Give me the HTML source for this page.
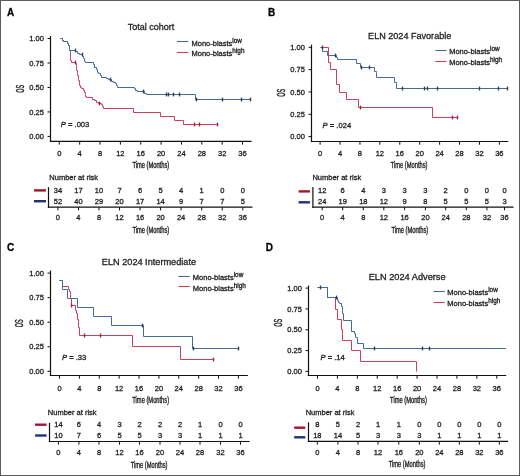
<!DOCTYPE html>
<html><head><meta charset="utf-8"><title>KM</title>
<style>
html,body{margin:0;padding:0;background:#fff;}
body{width:520px;height:476px;overflow:hidden;}
svg{display:block;font-family:"Liberation Sans", sans-serif;will-change:transform;-webkit-font-smoothing:antialiased;}
text{stroke:#1e1e1e;stroke-width:0.3px;paint-order:stroke;}
</style></head>
<body>
<svg width="520" height="476" viewBox="0 0 520 476">
<rect x="0" y="0" width="520" height="476" fill="#fff"/>
<text x="6.9" y="15.9" font-size="10" text-anchor="start" font-weight="bold" font-style="normal" fill="#000">A</text>
<text x="127.7" y="30.4" font-size="9.2" text-anchor="start" font-weight="normal" font-style="normal" fill="#222" textLength="46.5" lengthAdjust="spacingAndGlyphs">Total cohort</text>
<line x1="176.9" y1="41.5" x2="188.2" y2="41.5" stroke="#456a98" stroke-width="1.1" stroke-linecap="butt"/>
<text x="191.5" y="45.6" font-size="7.5" fill="#222">Mono-blasts<tspan font-size="6.4" dy="-3">low</tspan></text>
<line x1="176.9" y1="52.5" x2="188.2" y2="52.5" stroke="#cc3d5e" stroke-width="1.1" stroke-linecap="butt"/>
<text x="191.5" y="56.4" font-size="7.5" fill="#222">Mono-blasts<tspan font-size="6.4" dy="-3">high</tspan></text>
<line x1="50.5" y1="35.9" x2="50.5" y2="142" stroke="#111" stroke-width="1.2" stroke-linecap="butt"/>
<line x1="47.5" y1="38.5" x2="50.5" y2="38.5" stroke="#111" stroke-width="1" stroke-linecap="butt"/>
<text x="43.9" y="41.2" font-size="7.5" text-anchor="end" font-weight="normal" font-style="normal" fill="#222">1.00</text>
<line x1="47.5" y1="62.98" x2="50.5" y2="62.98" stroke="#111" stroke-width="1" stroke-linecap="butt"/>
<text x="43.9" y="65.67" font-size="7.5" text-anchor="end" font-weight="normal" font-style="normal" fill="#222">0.75</text>
<line x1="47.5" y1="87.45" x2="50.5" y2="87.45" stroke="#111" stroke-width="1" stroke-linecap="butt"/>
<text x="43.9" y="90.15" font-size="7.5" text-anchor="end" font-weight="normal" font-style="normal" fill="#222">0.50</text>
<line x1="47.5" y1="111.93" x2="50.5" y2="111.93" stroke="#111" stroke-width="1" stroke-linecap="butt"/>
<text x="43.9" y="114.63" font-size="7.5" text-anchor="end" font-weight="normal" font-style="normal" fill="#222">0.25</text>
<line x1="47.5" y1="136.4" x2="50.5" y2="136.4" stroke="#111" stroke-width="1" stroke-linecap="butt"/>
<text x="43.9" y="139.1" font-size="7.5" text-anchor="end" font-weight="normal" font-style="normal" fill="#222">0.00</text>
<line x1="49.9" y1="141.4" x2="251.5" y2="141.4" stroke="#111" stroke-width="1.2" stroke-linecap="butt"/>
<line x1="59.3" y1="141.4" x2="59.3" y2="144.6" stroke="#111" stroke-width="1" stroke-linecap="butt"/>
<text x="59.3" y="155.8" font-size="7.5" text-anchor="middle" font-weight="normal" font-style="normal" fill="#222">0</text>
<line x1="79.66" y1="141.4" x2="79.66" y2="144.6" stroke="#111" stroke-width="1" stroke-linecap="butt"/>
<text x="79.66" y="155.8" font-size="7.5" text-anchor="middle" font-weight="normal" font-style="normal" fill="#222">4</text>
<line x1="100.02" y1="141.4" x2="100.02" y2="144.6" stroke="#111" stroke-width="1" stroke-linecap="butt"/>
<text x="100.02" y="155.8" font-size="7.5" text-anchor="middle" font-weight="normal" font-style="normal" fill="#222">8</text>
<line x1="120.38" y1="141.4" x2="120.38" y2="144.6" stroke="#111" stroke-width="1" stroke-linecap="butt"/>
<text x="120.38" y="155.8" font-size="7.5" text-anchor="middle" font-weight="normal" font-style="normal" fill="#222">12</text>
<line x1="140.74" y1="141.4" x2="140.74" y2="144.6" stroke="#111" stroke-width="1" stroke-linecap="butt"/>
<text x="140.74" y="155.8" font-size="7.5" text-anchor="middle" font-weight="normal" font-style="normal" fill="#222">16</text>
<line x1="161.1" y1="141.4" x2="161.1" y2="144.6" stroke="#111" stroke-width="1" stroke-linecap="butt"/>
<text x="161.1" y="155.8" font-size="7.5" text-anchor="middle" font-weight="normal" font-style="normal" fill="#222">20</text>
<line x1="181.46" y1="141.4" x2="181.46" y2="144.6" stroke="#111" stroke-width="1" stroke-linecap="butt"/>
<text x="181.46" y="155.8" font-size="7.5" text-anchor="middle" font-weight="normal" font-style="normal" fill="#222">24</text>
<line x1="201.82" y1="141.4" x2="201.82" y2="144.6" stroke="#111" stroke-width="1" stroke-linecap="butt"/>
<text x="201.82" y="155.8" font-size="7.5" text-anchor="middle" font-weight="normal" font-style="normal" fill="#222">28</text>
<line x1="222.18" y1="141.4" x2="222.18" y2="144.6" stroke="#111" stroke-width="1" stroke-linecap="butt"/>
<text x="222.18" y="155.8" font-size="7.5" text-anchor="middle" font-weight="normal" font-style="normal" fill="#222">32</text>
<line x1="242.54" y1="141.4" x2="242.54" y2="144.6" stroke="#111" stroke-width="1" stroke-linecap="butt"/>
<text x="242.54" y="155.8" font-size="7.5" text-anchor="middle" font-weight="normal" font-style="normal" fill="#222">36</text>
<text x="132.4" y="168.1" font-size="8.2" text-anchor="start" font-weight="normal" font-style="normal" fill="#222" textLength="36.8" lengthAdjust="spacingAndGlyphs" style="stroke-width:0.35px">Time (Months)</text>
<text x="0" y="0" font-size="10.6" fill="#222" textLength="7.9" lengthAdjust="spacingAndGlyphs" text-anchor="middle" style="stroke-width:0.45px" transform="translate(23.9 88.7) rotate(-90)">OS</text>
<path d="M60.5 38.5H62.5V40.5H63.5V41.5H67.5V43.5H68.5V45.5H69.5V47.5H69.5V50.5H70.5V57.5H70.5V60.5H71.5V62.5H75.5V63.5H76.5V65.5H76.5V68.5H76.5V70.5H77.5V73.5H77.5V75.5H78.5V78.5H78.5V80.5H79.5V83.5H79.5V85.5H80.5V87.5H81.5V88.5H83.5V90.5H84.5V92.5H85.5V94.5H85.5V96.5H86.5V97.5H92.5V99.5H94.5V100.5H96.5V102.5H98.5V103.5H101.5V104.5H102.5V106.5H103.5V108.5H133.5V112.5H160.5V116.5H174.5V120.5H183.5V124.5H218" fill="none" stroke="#cc3d5e" stroke-width="1" stroke-linejoin="miter"/>
<path d="M60.5 38.5H62.5V40.5H63.5V41.5H67.5V43.5H68.5V45.5H69.5V47.5H69.5V50.5H75.5V51.5H77.5V53.5H79.5V54.5H82.5V56.5H83.5V58.5H84.5V61.5H85.5V62.5H93.5V64.5H94.5V67.5H96.5V69.5H97.5V72.5H98.5V73.5H100.5V75.5H101.5V77.5H106.5V78.5H108.5V79.5H111.5V81.5H113.5V82.5H115.5V83.5H116.5V85.5H117.5V87.5H134.5V88.5H135.5V90.5H137.5V91.5H144.5V93.5H146.5V94.5H195.5V99.5H251" fill="none" stroke="#456a98" stroke-width="1" stroke-linejoin="miter"/>
<line x1="75.5" y1="60.6" x2="75.5" y2="64.4" stroke="#8e2540" stroke-width="1.4" stroke-linecap="butt"/>
<line x1="99.5" y1="101.6" x2="99.5" y2="105.4" stroke="#8e2540" stroke-width="1.4" stroke-linecap="butt"/>
<line x1="194.5" y1="122.6" x2="194.5" y2="126.4" stroke="#8e2540" stroke-width="1.4" stroke-linecap="butt"/>
<line x1="199.5" y1="122.6" x2="199.5" y2="126.4" stroke="#8e2540" stroke-width="1.4" stroke-linecap="butt"/>
<line x1="217.5" y1="122.6" x2="217.5" y2="126.4" stroke="#8e2540" stroke-width="1.4" stroke-linecap="butt"/>
<line x1="75.5" y1="48.6" x2="75.5" y2="52.4" stroke="#2a3f5c" stroke-width="1.4" stroke-linecap="butt"/>
<line x1="82.5" y1="52.6" x2="82.5" y2="56.4" stroke="#2a3f5c" stroke-width="1.4" stroke-linecap="butt"/>
<line x1="110.5" y1="77.6" x2="110.5" y2="81.4" stroke="#2a3f5c" stroke-width="1.4" stroke-linecap="butt"/>
<line x1="143.5" y1="89.6" x2="143.5" y2="93.4" stroke="#2a3f5c" stroke-width="1.4" stroke-linecap="butt"/>
<line x1="166.5" y1="92.6" x2="166.5" y2="96.4" stroke="#2a3f5c" stroke-width="1.4" stroke-linecap="butt"/>
<line x1="168.5" y1="92.6" x2="168.5" y2="96.4" stroke="#2a3f5c" stroke-width="1.4" stroke-linecap="butt"/>
<line x1="173.5" y1="92.6" x2="173.5" y2="96.4" stroke="#2a3f5c" stroke-width="1.4" stroke-linecap="butt"/>
<line x1="179.5" y1="92.6" x2="179.5" y2="96.4" stroke="#2a3f5c" stroke-width="1.4" stroke-linecap="butt"/>
<line x1="196.5" y1="97.6" x2="196.5" y2="101.4" stroke="#2a3f5c" stroke-width="1.4" stroke-linecap="butt"/>
<line x1="222.5" y1="97.6" x2="222.5" y2="101.4" stroke="#2a3f5c" stroke-width="1.4" stroke-linecap="butt"/>
<line x1="241.5" y1="97.6" x2="241.5" y2="101.4" stroke="#2a3f5c" stroke-width="1.4" stroke-linecap="butt"/>
<line x1="250.5" y1="97.6" x2="250.5" y2="101.4" stroke="#2a3f5c" stroke-width="1.4" stroke-linecap="butt"/>
<text x="60.8" y="126.6" font-size="7.6" fill="#222"><tspan font-style="italic">P</tspan> = .003</text>
<text x="49.3" y="180.3" font-size="7.5" text-anchor="start" font-weight="normal" font-style="normal" fill="#222">Number at risk</text>
<line x1="34" y1="190.4" x2="46" y2="190.4" stroke="#a3162f" stroke-width="2.4" stroke-linecap="butt"/>
<line x1="34" y1="201.2" x2="46" y2="201.2" stroke="#1d3470" stroke-width="2.4" stroke-linecap="butt"/>
<line x1="48.5" y1="187.2" x2="48.5" y2="207.8" stroke="#111" stroke-width="1.2" stroke-linecap="butt"/>
<line x1="47.9" y1="207.2" x2="252.5" y2="207.2" stroke="#111" stroke-width="1.2" stroke-linecap="butt"/>
<line x1="57.9" y1="207.2" x2="57.9" y2="210.4" stroke="#111" stroke-width="1" stroke-linecap="butt"/>
<text x="57.9" y="192.8" font-size="7.5" text-anchor="middle" font-weight="normal" font-style="normal" fill="#222">34</text>
<text x="57.9" y="203.6" font-size="7.5" text-anchor="middle" font-weight="normal" font-style="normal" fill="#222">52</text>
<text x="57.9" y="220.2" font-size="7.5" text-anchor="middle" font-weight="normal" font-style="normal" fill="#222">0</text>
<line x1="78.44" y1="207.2" x2="78.44" y2="210.4" stroke="#111" stroke-width="1" stroke-linecap="butt"/>
<text x="78.44" y="192.8" font-size="7.5" text-anchor="middle" font-weight="normal" font-style="normal" fill="#222">17</text>
<text x="78.44" y="203.6" font-size="7.5" text-anchor="middle" font-weight="normal" font-style="normal" fill="#222">40</text>
<text x="78.44" y="220.2" font-size="7.5" text-anchor="middle" font-weight="normal" font-style="normal" fill="#222">4</text>
<line x1="98.98" y1="207.2" x2="98.98" y2="210.4" stroke="#111" stroke-width="1" stroke-linecap="butt"/>
<text x="98.98" y="192.8" font-size="7.5" text-anchor="middle" font-weight="normal" font-style="normal" fill="#222">10</text>
<text x="98.98" y="203.6" font-size="7.5" text-anchor="middle" font-weight="normal" font-style="normal" fill="#222">29</text>
<text x="98.98" y="220.2" font-size="7.5" text-anchor="middle" font-weight="normal" font-style="normal" fill="#222">8</text>
<line x1="119.52" y1="207.2" x2="119.52" y2="210.4" stroke="#111" stroke-width="1" stroke-linecap="butt"/>
<text x="119.52" y="192.8" font-size="7.5" text-anchor="middle" font-weight="normal" font-style="normal" fill="#222">7</text>
<text x="119.52" y="203.6" font-size="7.5" text-anchor="middle" font-weight="normal" font-style="normal" fill="#222">20</text>
<text x="119.52" y="220.2" font-size="7.5" text-anchor="middle" font-weight="normal" font-style="normal" fill="#222">12</text>
<line x1="140.06" y1="207.2" x2="140.06" y2="210.4" stroke="#111" stroke-width="1" stroke-linecap="butt"/>
<text x="140.06" y="192.8" font-size="7.5" text-anchor="middle" font-weight="normal" font-style="normal" fill="#222">6</text>
<text x="140.06" y="203.6" font-size="7.5" text-anchor="middle" font-weight="normal" font-style="normal" fill="#222">17</text>
<text x="140.06" y="220.2" font-size="7.5" text-anchor="middle" font-weight="normal" font-style="normal" fill="#222">16</text>
<line x1="160.6" y1="207.2" x2="160.6" y2="210.4" stroke="#111" stroke-width="1" stroke-linecap="butt"/>
<text x="160.6" y="192.8" font-size="7.5" text-anchor="middle" font-weight="normal" font-style="normal" fill="#222">5</text>
<text x="160.6" y="203.6" font-size="7.5" text-anchor="middle" font-weight="normal" font-style="normal" fill="#222">14</text>
<text x="160.6" y="220.2" font-size="7.5" text-anchor="middle" font-weight="normal" font-style="normal" fill="#222">20</text>
<line x1="181.14" y1="207.2" x2="181.14" y2="210.4" stroke="#111" stroke-width="1" stroke-linecap="butt"/>
<text x="181.14" y="192.8" font-size="7.5" text-anchor="middle" font-weight="normal" font-style="normal" fill="#222">4</text>
<text x="181.14" y="203.6" font-size="7.5" text-anchor="middle" font-weight="normal" font-style="normal" fill="#222">9</text>
<text x="181.14" y="220.2" font-size="7.5" text-anchor="middle" font-weight="normal" font-style="normal" fill="#222">24</text>
<line x1="201.68" y1="207.2" x2="201.68" y2="210.4" stroke="#111" stroke-width="1" stroke-linecap="butt"/>
<text x="201.68" y="192.8" font-size="7.5" text-anchor="middle" font-weight="normal" font-style="normal" fill="#222">1</text>
<text x="201.68" y="203.6" font-size="7.5" text-anchor="middle" font-weight="normal" font-style="normal" fill="#222">7</text>
<text x="201.68" y="220.2" font-size="7.5" text-anchor="middle" font-weight="normal" font-style="normal" fill="#222">28</text>
<line x1="222.22" y1="207.2" x2="222.22" y2="210.4" stroke="#111" stroke-width="1" stroke-linecap="butt"/>
<text x="222.22" y="192.8" font-size="7.5" text-anchor="middle" font-weight="normal" font-style="normal" fill="#222">0</text>
<text x="222.22" y="203.6" font-size="7.5" text-anchor="middle" font-weight="normal" font-style="normal" fill="#222">7</text>
<text x="222.22" y="220.2" font-size="7.5" text-anchor="middle" font-weight="normal" font-style="normal" fill="#222">32</text>
<line x1="242.76" y1="207.2" x2="242.76" y2="210.4" stroke="#111" stroke-width="1" stroke-linecap="butt"/>
<text x="242.76" y="192.8" font-size="7.5" text-anchor="middle" font-weight="normal" font-style="normal" fill="#222">0</text>
<text x="242.76" y="203.6" font-size="7.5" text-anchor="middle" font-weight="normal" font-style="normal" fill="#222">5</text>
<text x="242.76" y="220.2" font-size="7.5" text-anchor="middle" font-weight="normal" font-style="normal" fill="#222">36</text>
<text x="132.4" y="233" font-size="8.2" text-anchor="start" font-weight="normal" font-style="normal" fill="#222" textLength="36.8" lengthAdjust="spacingAndGlyphs" style="stroke-width:0.35px">Time (Months)</text>
<text x="268" y="16.2" font-size="10" text-anchor="start" font-weight="bold" font-style="normal" fill="#000">B</text>
<text x="368.1" y="39.4" font-size="9.2" text-anchor="start" font-weight="normal" font-style="normal" fill="#222" textLength="83.2" lengthAdjust="spacingAndGlyphs">ELN 2024 Favorable</text>
<line x1="435.4" y1="50.5" x2="446.6" y2="50.5" stroke="#456a98" stroke-width="1.1" stroke-linecap="butt"/>
<text x="449.2" y="54.2" font-size="7.5" fill="#222">Mono-blasts<tspan font-size="6.4" dy="-3">low</tspan></text>
<line x1="435.4" y1="61.5" x2="446.6" y2="61.5" stroke="#cc3d5e" stroke-width="1.1" stroke-linecap="butt"/>
<text x="449.2" y="65.2" font-size="7.5" fill="#222">Mono-blasts<tspan font-size="6.4" dy="-3">high</tspan></text>
<line x1="311.5" y1="44.7" x2="311.5" y2="142.1" stroke="#111" stroke-width="1.2" stroke-linecap="butt"/>
<line x1="308.5" y1="47.3" x2="311.5" y2="47.3" stroke="#111" stroke-width="1" stroke-linecap="butt"/>
<text x="304.9" y="50" font-size="7.5" text-anchor="end" font-weight="normal" font-style="normal" fill="#222">1.00</text>
<line x1="308.5" y1="69.62" x2="311.5" y2="69.62" stroke="#111" stroke-width="1" stroke-linecap="butt"/>
<text x="304.9" y="72.33" font-size="7.5" text-anchor="end" font-weight="normal" font-style="normal" fill="#222">0.75</text>
<line x1="308.5" y1="91.95" x2="311.5" y2="91.95" stroke="#111" stroke-width="1" stroke-linecap="butt"/>
<text x="304.9" y="94.65" font-size="7.5" text-anchor="end" font-weight="normal" font-style="normal" fill="#222">0.50</text>
<line x1="308.5" y1="114.27" x2="311.5" y2="114.27" stroke="#111" stroke-width="1" stroke-linecap="butt"/>
<text x="304.9" y="116.97" font-size="7.5" text-anchor="end" font-weight="normal" font-style="normal" fill="#222">0.25</text>
<line x1="308.5" y1="136.6" x2="311.5" y2="136.6" stroke="#111" stroke-width="1" stroke-linecap="butt"/>
<text x="304.9" y="139.3" font-size="7.5" text-anchor="end" font-weight="normal" font-style="normal" fill="#222">0.00</text>
<line x1="310.9" y1="141.5" x2="508.3" y2="141.5" stroke="#111" stroke-width="1.2" stroke-linecap="butt"/>
<line x1="320.1" y1="141.5" x2="320.1" y2="144.7" stroke="#111" stroke-width="1" stroke-linecap="butt"/>
<text x="320.1" y="155.8" font-size="7.5" text-anchor="middle" font-weight="normal" font-style="normal" fill="#222">0</text>
<line x1="340.02" y1="141.5" x2="340.02" y2="144.7" stroke="#111" stroke-width="1" stroke-linecap="butt"/>
<text x="340.02" y="155.8" font-size="7.5" text-anchor="middle" font-weight="normal" font-style="normal" fill="#222">4</text>
<line x1="359.94" y1="141.5" x2="359.94" y2="144.7" stroke="#111" stroke-width="1" stroke-linecap="butt"/>
<text x="359.94" y="155.8" font-size="7.5" text-anchor="middle" font-weight="normal" font-style="normal" fill="#222">8</text>
<line x1="379.86" y1="141.5" x2="379.86" y2="144.7" stroke="#111" stroke-width="1" stroke-linecap="butt"/>
<text x="379.86" y="155.8" font-size="7.5" text-anchor="middle" font-weight="normal" font-style="normal" fill="#222">12</text>
<line x1="399.78" y1="141.5" x2="399.78" y2="144.7" stroke="#111" stroke-width="1" stroke-linecap="butt"/>
<text x="399.78" y="155.8" font-size="7.5" text-anchor="middle" font-weight="normal" font-style="normal" fill="#222">16</text>
<line x1="419.7" y1="141.5" x2="419.7" y2="144.7" stroke="#111" stroke-width="1" stroke-linecap="butt"/>
<text x="419.7" y="155.8" font-size="7.5" text-anchor="middle" font-weight="normal" font-style="normal" fill="#222">20</text>
<line x1="439.62" y1="141.5" x2="439.62" y2="144.7" stroke="#111" stroke-width="1" stroke-linecap="butt"/>
<text x="439.62" y="155.8" font-size="7.5" text-anchor="middle" font-weight="normal" font-style="normal" fill="#222">24</text>
<line x1="459.54" y1="141.5" x2="459.54" y2="144.7" stroke="#111" stroke-width="1" stroke-linecap="butt"/>
<text x="459.54" y="155.8" font-size="7.5" text-anchor="middle" font-weight="normal" font-style="normal" fill="#222">28</text>
<line x1="479.46" y1="141.5" x2="479.46" y2="144.7" stroke="#111" stroke-width="1" stroke-linecap="butt"/>
<text x="479.46" y="155.8" font-size="7.5" text-anchor="middle" font-weight="normal" font-style="normal" fill="#222">32</text>
<line x1="499.38" y1="141.5" x2="499.38" y2="144.7" stroke="#111" stroke-width="1" stroke-linecap="butt"/>
<text x="499.38" y="155.8" font-size="7.5" text-anchor="middle" font-weight="normal" font-style="normal" fill="#222">36</text>
<text x="390.7" y="168.1" font-size="8.2" text-anchor="start" font-weight="normal" font-style="normal" fill="#222" textLength="36.8" lengthAdjust="spacingAndGlyphs" style="stroke-width:0.35px">Time (Months)</text>
<text x="0" y="0" font-size="10.6" fill="#222" textLength="7.9" lengthAdjust="spacingAndGlyphs" text-anchor="middle" style="stroke-width:0.45px" transform="translate(284.8 92.8) rotate(-90)">OS</text>
<path d="M320.5 47.5H328.5V55.5H328.5V62.5H330.5V69.5H336.5V84.5H339.5V92.5H346.5V99.5H358.5V107.5H432.5V117.5H458" fill="none" stroke="#cc3d5e" stroke-width="1" stroke-linejoin="miter"/>
<path d="M320.5 47.5H322.5V51.5H327.5V55.5H336.5V57.5H337.5V59.5H356.5V61.5H356.5V63.5H360.5V67.5H374.5V71.5H376.5V72.5H376.5V77.5H394.5V82.5H396.5V83.5H396.5V88.5H508" fill="none" stroke="#456a98" stroke-width="1" stroke-linejoin="miter"/>
<line x1="360.5" y1="105.6" x2="360.5" y2="109.4" stroke="#8e2540" stroke-width="1.4" stroke-linecap="butt"/>
<line x1="452.5" y1="115.6" x2="452.5" y2="119.4" stroke="#8e2540" stroke-width="1.4" stroke-linecap="butt"/>
<line x1="457.5" y1="115.6" x2="457.5" y2="119.4" stroke="#8e2540" stroke-width="1.4" stroke-linecap="butt"/>
<line x1="322.5" y1="45.6" x2="322.5" y2="49.4" stroke="#2a3f5c" stroke-width="1.4" stroke-linecap="butt"/>
<line x1="335.5" y1="53.6" x2="335.5" y2="57.4" stroke="#2a3f5c" stroke-width="1.4" stroke-linecap="butt"/>
<line x1="361.5" y1="65.6" x2="361.5" y2="69.4" stroke="#2a3f5c" stroke-width="1.4" stroke-linecap="butt"/>
<line x1="369.5" y1="65.6" x2="369.5" y2="69.4" stroke="#2a3f5c" stroke-width="1.4" stroke-linecap="butt"/>
<line x1="402.5" y1="86.6" x2="402.5" y2="90.4" stroke="#2a3f5c" stroke-width="1.4" stroke-linecap="butt"/>
<line x1="424.5" y1="86.6" x2="424.5" y2="90.4" stroke="#2a3f5c" stroke-width="1.4" stroke-linecap="butt"/>
<line x1="427.5" y1="86.6" x2="427.5" y2="90.4" stroke="#2a3f5c" stroke-width="1.4" stroke-linecap="butt"/>
<line x1="437.5" y1="86.6" x2="437.5" y2="90.4" stroke="#2a3f5c" stroke-width="1.4" stroke-linecap="butt"/>
<line x1="479.5" y1="86.6" x2="479.5" y2="90.4" stroke="#2a3f5c" stroke-width="1.4" stroke-linecap="butt"/>
<line x1="498.5" y1="86.6" x2="498.5" y2="90.4" stroke="#2a3f5c" stroke-width="1.4" stroke-linecap="butt"/>
<line x1="507.5" y1="86.6" x2="507.5" y2="90.4" stroke="#2a3f5c" stroke-width="1.4" stroke-linecap="butt"/>
<text x="322.6" y="127.5" font-size="7.6" fill="#222"><tspan font-style="italic">P</tspan> = .024</text>
<text x="312.4" y="180.1" font-size="7.5" text-anchor="start" font-weight="normal" font-style="normal" fill="#222">Number at risk</text>
<line x1="298.6" y1="191.4" x2="309.9" y2="191.4" stroke="#a3162f" stroke-width="2.4" stroke-linecap="butt"/>
<line x1="298.6" y1="202.3" x2="309.9" y2="202.3" stroke="#1d3470" stroke-width="2.4" stroke-linecap="butt"/>
<line x1="312.9" y1="187" x2="312.9" y2="207.7" stroke="#111" stroke-width="1.2" stroke-linecap="butt"/>
<line x1="312.3" y1="207.1" x2="513.6" y2="207.1" stroke="#111" stroke-width="1.2" stroke-linecap="butt"/>
<line x1="322.2" y1="207.1" x2="322.2" y2="210.3" stroke="#111" stroke-width="1" stroke-linecap="butt"/>
<text x="322.2" y="192.9" font-size="7.5" text-anchor="middle" font-weight="normal" font-style="normal" fill="#222">12</text>
<text x="322.2" y="203.6" font-size="7.5" text-anchor="middle" font-weight="normal" font-style="normal" fill="#222">24</text>
<text x="322.2" y="220.3" font-size="7.5" text-anchor="middle" font-weight="normal" font-style="normal" fill="#222">0</text>
<line x1="342.7" y1="207.1" x2="342.7" y2="210.3" stroke="#111" stroke-width="1" stroke-linecap="butt"/>
<text x="342.7" y="192.9" font-size="7.5" text-anchor="middle" font-weight="normal" font-style="normal" fill="#222">6</text>
<text x="342.7" y="203.6" font-size="7.5" text-anchor="middle" font-weight="normal" font-style="normal" fill="#222">19</text>
<text x="342.7" y="220.3" font-size="7.5" text-anchor="middle" font-weight="normal" font-style="normal" fill="#222">4</text>
<line x1="363.3" y1="207.1" x2="363.3" y2="210.3" stroke="#111" stroke-width="1" stroke-linecap="butt"/>
<text x="363.3" y="192.9" font-size="7.5" text-anchor="middle" font-weight="normal" font-style="normal" fill="#222">4</text>
<text x="363.3" y="203.6" font-size="7.5" text-anchor="middle" font-weight="normal" font-style="normal" fill="#222">18</text>
<text x="363.3" y="220.3" font-size="7.5" text-anchor="middle" font-weight="normal" font-style="normal" fill="#222">8</text>
<line x1="383.8" y1="207.1" x2="383.8" y2="210.3" stroke="#111" stroke-width="1" stroke-linecap="butt"/>
<text x="383.8" y="192.9" font-size="7.5" text-anchor="middle" font-weight="normal" font-style="normal" fill="#222">3</text>
<text x="383.8" y="203.6" font-size="7.5" text-anchor="middle" font-weight="normal" font-style="normal" fill="#222">12</text>
<text x="383.8" y="220.3" font-size="7.5" text-anchor="middle" font-weight="normal" font-style="normal" fill="#222">12</text>
<line x1="404.6" y1="207.1" x2="404.6" y2="210.3" stroke="#111" stroke-width="1" stroke-linecap="butt"/>
<text x="404.6" y="192.9" font-size="7.5" text-anchor="middle" font-weight="normal" font-style="normal" fill="#222">3</text>
<text x="404.6" y="203.6" font-size="7.5" text-anchor="middle" font-weight="normal" font-style="normal" fill="#222">9</text>
<text x="404.6" y="220.3" font-size="7.5" text-anchor="middle" font-weight="normal" font-style="normal" fill="#222">16</text>
<line x1="425.4" y1="207.1" x2="425.4" y2="210.3" stroke="#111" stroke-width="1" stroke-linecap="butt"/>
<text x="425.4" y="192.9" font-size="7.5" text-anchor="middle" font-weight="normal" font-style="normal" fill="#222">3</text>
<text x="425.4" y="203.6" font-size="7.5" text-anchor="middle" font-weight="normal" font-style="normal" fill="#222">8</text>
<text x="425.4" y="220.3" font-size="7.5" text-anchor="middle" font-weight="normal" font-style="normal" fill="#222">20</text>
<line x1="445.7" y1="207.1" x2="445.7" y2="210.3" stroke="#111" stroke-width="1" stroke-linecap="butt"/>
<text x="445.7" y="192.9" font-size="7.5" text-anchor="middle" font-weight="normal" font-style="normal" fill="#222">2</text>
<text x="445.7" y="203.6" font-size="7.5" text-anchor="middle" font-weight="normal" font-style="normal" fill="#222">5</text>
<text x="445.7" y="220.3" font-size="7.5" text-anchor="middle" font-weight="normal" font-style="normal" fill="#222">24</text>
<line x1="466.3" y1="207.1" x2="466.3" y2="210.3" stroke="#111" stroke-width="1" stroke-linecap="butt"/>
<text x="466.3" y="192.9" font-size="7.5" text-anchor="middle" font-weight="normal" font-style="normal" fill="#222">0</text>
<text x="466.3" y="203.6" font-size="7.5" text-anchor="middle" font-weight="normal" font-style="normal" fill="#222">5</text>
<text x="466.3" y="220.3" font-size="7.5" text-anchor="middle" font-weight="normal" font-style="normal" fill="#222">28</text>
<line x1="486.9" y1="207.1" x2="486.9" y2="210.3" stroke="#111" stroke-width="1" stroke-linecap="butt"/>
<text x="486.9" y="192.9" font-size="7.5" text-anchor="middle" font-weight="normal" font-style="normal" fill="#222">0</text>
<text x="486.9" y="203.6" font-size="7.5" text-anchor="middle" font-weight="normal" font-style="normal" fill="#222">5</text>
<text x="486.9" y="220.3" font-size="7.5" text-anchor="middle" font-weight="normal" font-style="normal" fill="#222">32</text>
<line x1="504.5" y1="207.1" x2="504.5" y2="210.3" stroke="#111" stroke-width="1" stroke-linecap="butt"/>
<text x="504.5" y="192.9" font-size="7.5" text-anchor="middle" font-weight="normal" font-style="normal" fill="#222">0</text>
<text x="504.5" y="203.6" font-size="7.5" text-anchor="middle" font-weight="normal" font-style="normal" fill="#222">3</text>
<text x="504.5" y="220.3" font-size="7.5" text-anchor="middle" font-weight="normal" font-style="normal" fill="#222">36</text>
<text x="391.4" y="233" font-size="8.2" text-anchor="start" font-weight="normal" font-style="normal" fill="#222" textLength="36.8" lengthAdjust="spacingAndGlyphs" style="stroke-width:0.35px">Time (Months)</text>
<text x="6.9" y="250.5" font-size="10" text-anchor="start" font-weight="bold" font-style="normal" fill="#000">C</text>
<text x="101.8" y="264.8" font-size="9.2" text-anchor="start" font-weight="normal" font-style="normal" fill="#222" textLength="94.3" lengthAdjust="spacingAndGlyphs">ELN 2024 Intermediate</text>
<line x1="178.5" y1="276.5" x2="189.7" y2="276.5" stroke="#456a98" stroke-width="1.1" stroke-linecap="butt"/>
<text x="192.8" y="279.7" font-size="7.5" fill="#222">Mono-blasts<tspan font-size="6.4" dy="-3">low</tspan></text>
<line x1="178.5" y1="286.5" x2="189.7" y2="286.5" stroke="#cc3d5e" stroke-width="1.1" stroke-linecap="butt"/>
<text x="192.8" y="290.6" font-size="7.5" fill="#222">Mono-blasts<tspan font-size="6.4" dy="-3">high</tspan></text>
<line x1="50.5" y1="270.5" x2="50.5" y2="376.1" stroke="#111" stroke-width="1.2" stroke-linecap="butt"/>
<line x1="47.5" y1="273.1" x2="50.5" y2="273.1" stroke="#111" stroke-width="1" stroke-linecap="butt"/>
<text x="43.9" y="275.8" font-size="7.5" text-anchor="end" font-weight="normal" font-style="normal" fill="#222">1.00</text>
<line x1="47.5" y1="297.65" x2="50.5" y2="297.65" stroke="#111" stroke-width="1" stroke-linecap="butt"/>
<text x="43.9" y="300.35" font-size="7.5" text-anchor="end" font-weight="normal" font-style="normal" fill="#222">0.75</text>
<line x1="47.5" y1="322.2" x2="50.5" y2="322.2" stroke="#111" stroke-width="1" stroke-linecap="butt"/>
<text x="43.9" y="324.9" font-size="7.5" text-anchor="end" font-weight="normal" font-style="normal" fill="#222">0.50</text>
<line x1="47.5" y1="346.75" x2="50.5" y2="346.75" stroke="#111" stroke-width="1" stroke-linecap="butt"/>
<text x="43.9" y="349.45" font-size="7.5" text-anchor="end" font-weight="normal" font-style="normal" fill="#222">0.25</text>
<line x1="47.5" y1="371.3" x2="50.5" y2="371.3" stroke="#111" stroke-width="1" stroke-linecap="butt"/>
<text x="43.9" y="374" font-size="7.5" text-anchor="end" font-weight="normal" font-style="normal" fill="#222">0.00</text>
<line x1="49.9" y1="375.5" x2="247.9" y2="375.5" stroke="#111" stroke-width="1.2" stroke-linecap="butt"/>
<line x1="59.5" y1="375.5" x2="59.5" y2="378.7" stroke="#111" stroke-width="1" stroke-linecap="butt"/>
<text x="59.5" y="390.9" font-size="7.5" text-anchor="middle" font-weight="normal" font-style="normal" fill="#222">0</text>
<line x1="79.38" y1="375.5" x2="79.38" y2="378.7" stroke="#111" stroke-width="1" stroke-linecap="butt"/>
<text x="79.38" y="390.9" font-size="7.5" text-anchor="middle" font-weight="normal" font-style="normal" fill="#222">4</text>
<line x1="99.26" y1="375.5" x2="99.26" y2="378.7" stroke="#111" stroke-width="1" stroke-linecap="butt"/>
<text x="99.26" y="390.9" font-size="7.5" text-anchor="middle" font-weight="normal" font-style="normal" fill="#222">8</text>
<line x1="119.14" y1="375.5" x2="119.14" y2="378.7" stroke="#111" stroke-width="1" stroke-linecap="butt"/>
<text x="119.14" y="390.9" font-size="7.5" text-anchor="middle" font-weight="normal" font-style="normal" fill="#222">12</text>
<line x1="139.02" y1="375.5" x2="139.02" y2="378.7" stroke="#111" stroke-width="1" stroke-linecap="butt"/>
<text x="139.02" y="390.9" font-size="7.5" text-anchor="middle" font-weight="normal" font-style="normal" fill="#222">16</text>
<line x1="158.9" y1="375.5" x2="158.9" y2="378.7" stroke="#111" stroke-width="1" stroke-linecap="butt"/>
<text x="158.9" y="390.9" font-size="7.5" text-anchor="middle" font-weight="normal" font-style="normal" fill="#222">20</text>
<line x1="178.78" y1="375.5" x2="178.78" y2="378.7" stroke="#111" stroke-width="1" stroke-linecap="butt"/>
<text x="178.78" y="390.9" font-size="7.5" text-anchor="middle" font-weight="normal" font-style="normal" fill="#222">24</text>
<line x1="198.66" y1="375.5" x2="198.66" y2="378.7" stroke="#111" stroke-width="1" stroke-linecap="butt"/>
<text x="198.66" y="390.9" font-size="7.5" text-anchor="middle" font-weight="normal" font-style="normal" fill="#222">28</text>
<line x1="218.54" y1="375.5" x2="218.54" y2="378.7" stroke="#111" stroke-width="1" stroke-linecap="butt"/>
<text x="218.54" y="390.9" font-size="7.5" text-anchor="middle" font-weight="normal" font-style="normal" fill="#222">32</text>
<line x1="238.42" y1="375.5" x2="238.42" y2="378.7" stroke="#111" stroke-width="1" stroke-linecap="butt"/>
<text x="238.42" y="390.9" font-size="7.5" text-anchor="middle" font-weight="normal" font-style="normal" fill="#222">36</text>
<text x="132.3" y="403.3" font-size="8.2" text-anchor="start" font-weight="normal" font-style="normal" fill="#222" textLength="36.8" lengthAdjust="spacingAndGlyphs" style="stroke-width:0.35px">Time (Months)</text>
<text x="0" y="0" font-size="10.6" fill="#222" textLength="7.9" lengthAdjust="spacingAndGlyphs" text-anchor="middle" style="stroke-width:0.45px" transform="translate(22.6 323.4) rotate(-90)">OS</text>
<path d="M59.5 280.5H62.5V286.5H68.5V289.5H69.5V291.5H70.5V294.5H70.5V298.5H71.5V305.5H75.5V310.5H76.5V313.5H77.5V319.5H78.5V327.5H79.5V335.5H132.5V346.5H180.5V359.5H214" fill="none" stroke="#cc3d5e" stroke-width="1" stroke-linejoin="miter"/>
<path d="M59.5 280.5H62.5V289.5H67.5V298.5H77.5V307.5H93.5V316.5H111.5V325.5H143.5V336.5H192.5V348.5H239" fill="none" stroke="#456a98" stroke-width="1" stroke-linejoin="miter"/>
<line x1="71.5" y1="303.6" x2="71.5" y2="307.4" stroke="#8e2540" stroke-width="1.4" stroke-linecap="butt"/>
<line x1="84.5" y1="333.6" x2="84.5" y2="337.4" stroke="#8e2540" stroke-width="1.4" stroke-linecap="butt"/>
<line x1="100.5" y1="333.6" x2="100.5" y2="337.4" stroke="#8e2540" stroke-width="1.4" stroke-linecap="butt"/>
<line x1="213.5" y1="357.6" x2="213.5" y2="361.4" stroke="#8e2540" stroke-width="1.4" stroke-linecap="butt"/>
<line x1="142.5" y1="323.6" x2="142.5" y2="327.4" stroke="#2a3f5c" stroke-width="1.4" stroke-linecap="butt"/>
<line x1="193.5" y1="346.6" x2="193.5" y2="350.4" stroke="#2a3f5c" stroke-width="1.4" stroke-linecap="butt"/>
<line x1="238.5" y1="346.6" x2="238.5" y2="350.4" stroke="#2a3f5c" stroke-width="1.4" stroke-linecap="butt"/>
<text x="62" y="360.1" font-size="7.6" fill="#222"><tspan font-style="italic">P</tspan> = .33</text>
<text x="47.8" y="415" font-size="7.5" text-anchor="start" font-weight="normal" font-style="normal" fill="#222">Number at risk</text>
<line x1="35.1" y1="424.7" x2="46.6" y2="424.7" stroke="#a3162f" stroke-width="2.4" stroke-linecap="butt"/>
<line x1="35.1" y1="435.5" x2="46.6" y2="435.5" stroke="#1d3470" stroke-width="2.4" stroke-linecap="butt"/>
<line x1="49.5" y1="422.8" x2="49.5" y2="442.1" stroke="#111" stroke-width="1.2" stroke-linecap="butt"/>
<line x1="48.9" y1="441.5" x2="249.5" y2="441.5" stroke="#111" stroke-width="1.2" stroke-linecap="butt"/>
<line x1="58.4" y1="441.5" x2="58.4" y2="444.7" stroke="#111" stroke-width="1" stroke-linecap="butt"/>
<text x="58.4" y="427.2" font-size="7.5" text-anchor="middle" font-weight="normal" font-style="normal" fill="#222">14</text>
<text x="58.4" y="437.7" font-size="7.5" text-anchor="middle" font-weight="normal" font-style="normal" fill="#222">10</text>
<text x="58.4" y="454.6" font-size="7.5" text-anchor="middle" font-weight="normal" font-style="normal" fill="#222">0</text>
<line x1="78.9" y1="441.5" x2="78.9" y2="444.7" stroke="#111" stroke-width="1" stroke-linecap="butt"/>
<text x="78.9" y="427.2" font-size="7.5" text-anchor="middle" font-weight="normal" font-style="normal" fill="#222">6</text>
<text x="78.9" y="437.7" font-size="7.5" text-anchor="middle" font-weight="normal" font-style="normal" fill="#222">7</text>
<text x="78.9" y="454.6" font-size="7.5" text-anchor="middle" font-weight="normal" font-style="normal" fill="#222">4</text>
<line x1="99" y1="441.5" x2="99" y2="444.7" stroke="#111" stroke-width="1" stroke-linecap="butt"/>
<text x="99" y="427.2" font-size="7.5" text-anchor="middle" font-weight="normal" font-style="normal" fill="#222">4</text>
<text x="99" y="437.7" font-size="7.5" text-anchor="middle" font-weight="normal" font-style="normal" fill="#222">6</text>
<text x="99" y="454.6" font-size="7.5" text-anchor="middle" font-weight="normal" font-style="normal" fill="#222">8</text>
<line x1="119.5" y1="441.5" x2="119.5" y2="444.7" stroke="#111" stroke-width="1" stroke-linecap="butt"/>
<text x="119.5" y="427.2" font-size="7.5" text-anchor="middle" font-weight="normal" font-style="normal" fill="#222">3</text>
<text x="119.5" y="437.7" font-size="7.5" text-anchor="middle" font-weight="normal" font-style="normal" fill="#222">5</text>
<text x="119.5" y="454.6" font-size="7.5" text-anchor="middle" font-weight="normal" font-style="normal" fill="#222">12</text>
<line x1="139.5" y1="441.5" x2="139.5" y2="444.7" stroke="#111" stroke-width="1" stroke-linecap="butt"/>
<text x="139.5" y="427.2" font-size="7.5" text-anchor="middle" font-weight="normal" font-style="normal" fill="#222">2</text>
<text x="139.5" y="437.7" font-size="7.5" text-anchor="middle" font-weight="normal" font-style="normal" fill="#222">5</text>
<text x="139.5" y="454.6" font-size="7.5" text-anchor="middle" font-weight="normal" font-style="normal" fill="#222">16</text>
<line x1="160" y1="441.5" x2="160" y2="444.7" stroke="#111" stroke-width="1" stroke-linecap="butt"/>
<text x="160" y="427.2" font-size="7.5" text-anchor="middle" font-weight="normal" font-style="normal" fill="#222">2</text>
<text x="160" y="437.7" font-size="7.5" text-anchor="middle" font-weight="normal" font-style="normal" fill="#222">3</text>
<text x="160" y="454.6" font-size="7.5" text-anchor="middle" font-weight="normal" font-style="normal" fill="#222">20</text>
<line x1="180" y1="441.5" x2="180" y2="444.7" stroke="#111" stroke-width="1" stroke-linecap="butt"/>
<text x="180" y="427.2" font-size="7.5" text-anchor="middle" font-weight="normal" font-style="normal" fill="#222">2</text>
<text x="180" y="437.7" font-size="7.5" text-anchor="middle" font-weight="normal" font-style="normal" fill="#222">3</text>
<text x="180" y="454.6" font-size="7.5" text-anchor="middle" font-weight="normal" font-style="normal" fill="#222">24</text>
<line x1="200" y1="441.5" x2="200" y2="444.7" stroke="#111" stroke-width="1" stroke-linecap="butt"/>
<text x="200" y="427.2" font-size="7.5" text-anchor="middle" font-weight="normal" font-style="normal" fill="#222">1</text>
<text x="200" y="437.7" font-size="7.5" text-anchor="middle" font-weight="normal" font-style="normal" fill="#222">1</text>
<text x="200" y="454.6" font-size="7.5" text-anchor="middle" font-weight="normal" font-style="normal" fill="#222">28</text>
<line x1="220.5" y1="441.5" x2="220.5" y2="444.7" stroke="#111" stroke-width="1" stroke-linecap="butt"/>
<text x="220.5" y="427.2" font-size="7.5" text-anchor="middle" font-weight="normal" font-style="normal" fill="#222">0</text>
<text x="220.5" y="437.7" font-size="7.5" text-anchor="middle" font-weight="normal" font-style="normal" fill="#222">1</text>
<text x="220.5" y="454.6" font-size="7.5" text-anchor="middle" font-weight="normal" font-style="normal" fill="#222">32</text>
<line x1="240.5" y1="441.5" x2="240.5" y2="444.7" stroke="#111" stroke-width="1" stroke-linecap="butt"/>
<text x="240.5" y="427.2" font-size="7.5" text-anchor="middle" font-weight="normal" font-style="normal" fill="#222">0</text>
<text x="240.5" y="437.7" font-size="7.5" text-anchor="middle" font-weight="normal" font-style="normal" fill="#222">1</text>
<text x="240.5" y="454.6" font-size="7.5" text-anchor="middle" font-weight="normal" font-style="normal" fill="#222">36</text>
<text x="130.7" y="467.6" font-size="8.2" text-anchor="start" font-weight="normal" font-style="normal" fill="#222" textLength="36.8" lengthAdjust="spacingAndGlyphs" style="stroke-width:0.35px">Time (Months)</text>
<text x="265.7" y="250.5" font-size="10" text-anchor="start" font-weight="bold" font-style="normal" fill="#000">D</text>
<text x="368.7" y="280" font-size="9.2" text-anchor="start" font-weight="normal" font-style="normal" fill="#222" textLength="76.9" lengthAdjust="spacingAndGlyphs">ELN 2024 Adverse</text>
<line x1="433.5" y1="291.5" x2="444.7" y2="291.5" stroke="#456a98" stroke-width="1.1" stroke-linecap="butt"/>
<text x="447.3" y="295.3" font-size="7.5" fill="#222">Mono-blasts<tspan font-size="6.4" dy="-3">low</tspan></text>
<line x1="433.5" y1="302.5" x2="444.7" y2="302.5" stroke="#cc3d5e" stroke-width="1.1" stroke-linecap="butt"/>
<text x="447.3" y="305.7" font-size="7.5" fill="#222">Mono-blasts<tspan font-size="6.4" dy="-3">high</tspan></text>
<line x1="308.5" y1="285.5" x2="308.5" y2="376.1" stroke="#111" stroke-width="1.2" stroke-linecap="butt"/>
<line x1="305.5" y1="288.1" x2="308.5" y2="288.1" stroke="#111" stroke-width="1" stroke-linecap="butt"/>
<text x="301.9" y="290.8" font-size="7.5" text-anchor="end" font-weight="normal" font-style="normal" fill="#222">1.00</text>
<line x1="305.5" y1="308.93" x2="308.5" y2="308.93" stroke="#111" stroke-width="1" stroke-linecap="butt"/>
<text x="301.9" y="311.62" font-size="7.5" text-anchor="end" font-weight="normal" font-style="normal" fill="#222">0.75</text>
<line x1="305.5" y1="329.75" x2="308.5" y2="329.75" stroke="#111" stroke-width="1" stroke-linecap="butt"/>
<text x="301.9" y="332.45" font-size="7.5" text-anchor="end" font-weight="normal" font-style="normal" fill="#222">0.50</text>
<line x1="305.5" y1="350.57" x2="308.5" y2="350.57" stroke="#111" stroke-width="1" stroke-linecap="butt"/>
<text x="301.9" y="353.27" font-size="7.5" text-anchor="end" font-weight="normal" font-style="normal" fill="#222">0.25</text>
<line x1="305.5" y1="371.4" x2="308.5" y2="371.4" stroke="#111" stroke-width="1" stroke-linecap="butt"/>
<text x="301.9" y="374.1" font-size="7.5" text-anchor="end" font-weight="normal" font-style="normal" fill="#222">0.00</text>
<line x1="307.9" y1="375.5" x2="506.2" y2="375.5" stroke="#111" stroke-width="1.2" stroke-linecap="butt"/>
<line x1="317.5" y1="375.5" x2="317.5" y2="378.7" stroke="#111" stroke-width="1" stroke-linecap="butt"/>
<text x="317.5" y="391.1" font-size="7.5" text-anchor="middle" font-weight="normal" font-style="normal" fill="#222">0</text>
<line x1="337.42" y1="375.5" x2="337.42" y2="378.7" stroke="#111" stroke-width="1" stroke-linecap="butt"/>
<text x="337.42" y="391.1" font-size="7.5" text-anchor="middle" font-weight="normal" font-style="normal" fill="#222">4</text>
<line x1="357.34" y1="375.5" x2="357.34" y2="378.7" stroke="#111" stroke-width="1" stroke-linecap="butt"/>
<text x="357.34" y="391.1" font-size="7.5" text-anchor="middle" font-weight="normal" font-style="normal" fill="#222">8</text>
<line x1="377.26" y1="375.5" x2="377.26" y2="378.7" stroke="#111" stroke-width="1" stroke-linecap="butt"/>
<text x="377.26" y="391.1" font-size="7.5" text-anchor="middle" font-weight="normal" font-style="normal" fill="#222">12</text>
<line x1="397.18" y1="375.5" x2="397.18" y2="378.7" stroke="#111" stroke-width="1" stroke-linecap="butt"/>
<text x="397.18" y="391.1" font-size="7.5" text-anchor="middle" font-weight="normal" font-style="normal" fill="#222">16</text>
<line x1="417.1" y1="375.5" x2="417.1" y2="378.7" stroke="#111" stroke-width="1" stroke-linecap="butt"/>
<text x="417.1" y="391.1" font-size="7.5" text-anchor="middle" font-weight="normal" font-style="normal" fill="#222">20</text>
<line x1="437.02" y1="375.5" x2="437.02" y2="378.7" stroke="#111" stroke-width="1" stroke-linecap="butt"/>
<text x="437.02" y="391.1" font-size="7.5" text-anchor="middle" font-weight="normal" font-style="normal" fill="#222">24</text>
<line x1="456.94" y1="375.5" x2="456.94" y2="378.7" stroke="#111" stroke-width="1" stroke-linecap="butt"/>
<text x="456.94" y="391.1" font-size="7.5" text-anchor="middle" font-weight="normal" font-style="normal" fill="#222">28</text>
<line x1="476.86" y1="375.5" x2="476.86" y2="378.7" stroke="#111" stroke-width="1" stroke-linecap="butt"/>
<text x="476.86" y="391.1" font-size="7.5" text-anchor="middle" font-weight="normal" font-style="normal" fill="#222">32</text>
<line x1="496.78" y1="375.5" x2="496.78" y2="378.7" stroke="#111" stroke-width="1" stroke-linecap="butt"/>
<text x="496.78" y="391.1" font-size="7.5" text-anchor="middle" font-weight="normal" font-style="normal" fill="#222">36</text>
<text x="390.1" y="403.3" font-size="8.2" text-anchor="start" font-weight="normal" font-style="normal" fill="#222" textLength="36.8" lengthAdjust="spacingAndGlyphs" style="stroke-width:0.35px">Time (Months)</text>
<text x="0" y="0" font-size="10.6" fill="#222" textLength="7.9" lengthAdjust="spacingAndGlyphs" text-anchor="middle" style="stroke-width:0.45px" transform="translate(281.9 322.7) rotate(-90)">OS</text>
<path d="M317.5 287.5H327.5V297.5H335.5V309.5H337.5V319.5H341.5V329.5H342.5V340.5H351.5V350.5H360.5V361.5H416.5V371.5" fill="none" stroke="#cc3d5e" stroke-width="1" stroke-linejoin="miter"/>
<path d="M317.5 287.5H327.5V297.5H337.5V300.5H338.5V302.5H339.5V303.5H341.5V306.5H342.5V309.5H342.5V313.5H343.5V320.5H351.5V331.5H354.5V333.5H355.5V337.5H357.5V338.5H357.5V343.5H363.5V343.5H363.5V348.5H506" fill="none" stroke="#456a98" stroke-width="1" stroke-linejoin="miter"/>
<line x1="320.5" y1="285.6" x2="320.5" y2="289.4" stroke="#2a3f5c" stroke-width="1.4" stroke-linecap="butt"/>
<line x1="336.5" y1="295.6" x2="336.5" y2="299.4" stroke="#2a3f5c" stroke-width="1.4" stroke-linecap="butt"/>
<line x1="374.5" y1="346.6" x2="374.5" y2="350.4" stroke="#2a3f5c" stroke-width="1.4" stroke-linecap="butt"/>
<line x1="422.5" y1="346.6" x2="422.5" y2="350.4" stroke="#2a3f5c" stroke-width="1.4" stroke-linecap="butt"/>
<line x1="429.5" y1="346.6" x2="429.5" y2="350.4" stroke="#2a3f5c" stroke-width="1.4" stroke-linecap="butt"/>
<text x="320.5" y="360.4" font-size="7.6" fill="#222"><tspan font-style="italic">P</tspan> = .14</text>
<text x="305.7" y="415" font-size="7.5" text-anchor="start" font-weight="normal" font-style="normal" fill="#222">Number at risk</text>
<line x1="294.2" y1="427.7" x2="305.3" y2="427.7" stroke="#a3162f" stroke-width="2.4" stroke-linecap="butt"/>
<line x1="294.2" y1="437.3" x2="305.3" y2="437.3" stroke="#1d3470" stroke-width="2.4" stroke-linecap="butt"/>
<line x1="308.5" y1="422.3" x2="308.5" y2="442" stroke="#111" stroke-width="1.2" stroke-linecap="butt"/>
<line x1="307.9" y1="441.4" x2="508" y2="441.4" stroke="#111" stroke-width="1.2" stroke-linecap="butt"/>
<line x1="317.3" y1="441.4" x2="317.3" y2="444.6" stroke="#111" stroke-width="1" stroke-linecap="butt"/>
<text x="317.3" y="427.3" font-size="7.5" text-anchor="middle" font-weight="normal" font-style="normal" fill="#222">8</text>
<text x="317.3" y="438.1" font-size="7.5" text-anchor="middle" font-weight="normal" font-style="normal" fill="#222">18</text>
<text x="317.3" y="454.5" font-size="7.5" text-anchor="middle" font-weight="normal" font-style="normal" fill="#222">0</text>
<line x1="337.9" y1="441.4" x2="337.9" y2="444.6" stroke="#111" stroke-width="1" stroke-linecap="butt"/>
<text x="337.9" y="427.3" font-size="7.5" text-anchor="middle" font-weight="normal" font-style="normal" fill="#222">5</text>
<text x="337.9" y="438.1" font-size="7.5" text-anchor="middle" font-weight="normal" font-style="normal" fill="#222">14</text>
<text x="337.9" y="454.5" font-size="7.5" text-anchor="middle" font-weight="normal" font-style="normal" fill="#222">4</text>
<line x1="358" y1="441.4" x2="358" y2="444.6" stroke="#111" stroke-width="1" stroke-linecap="butt"/>
<text x="358" y="427.3" font-size="7.5" text-anchor="middle" font-weight="normal" font-style="normal" fill="#222">2</text>
<text x="358" y="438.1" font-size="7.5" text-anchor="middle" font-weight="normal" font-style="normal" fill="#222">5</text>
<text x="358" y="454.5" font-size="7.5" text-anchor="middle" font-weight="normal" font-style="normal" fill="#222">8</text>
<line x1="378" y1="441.4" x2="378" y2="444.6" stroke="#111" stroke-width="1" stroke-linecap="butt"/>
<text x="378" y="427.3" font-size="7.5" text-anchor="middle" font-weight="normal" font-style="normal" fill="#222">1</text>
<text x="378" y="438.1" font-size="7.5" text-anchor="middle" font-weight="normal" font-style="normal" fill="#222">3</text>
<text x="378" y="454.5" font-size="7.5" text-anchor="middle" font-weight="normal" font-style="normal" fill="#222">12</text>
<line x1="398.8" y1="441.4" x2="398.8" y2="444.6" stroke="#111" stroke-width="1" stroke-linecap="butt"/>
<text x="398.8" y="427.3" font-size="7.5" text-anchor="middle" font-weight="normal" font-style="normal" fill="#222">1</text>
<text x="398.8" y="438.1" font-size="7.5" text-anchor="middle" font-weight="normal" font-style="normal" fill="#222">3</text>
<text x="398.8" y="454.5" font-size="7.5" text-anchor="middle" font-weight="normal" font-style="normal" fill="#222">16</text>
<line x1="419.3" y1="441.4" x2="419.3" y2="444.6" stroke="#111" stroke-width="1" stroke-linecap="butt"/>
<text x="419.3" y="427.3" font-size="7.5" text-anchor="middle" font-weight="normal" font-style="normal" fill="#222">0</text>
<text x="419.3" y="438.1" font-size="7.5" text-anchor="middle" font-weight="normal" font-style="normal" fill="#222">3</text>
<text x="419.3" y="454.5" font-size="7.5" text-anchor="middle" font-weight="normal" font-style="normal" fill="#222">20</text>
<line x1="439.3" y1="441.4" x2="439.3" y2="444.6" stroke="#111" stroke-width="1" stroke-linecap="butt"/>
<text x="439.3" y="427.3" font-size="7.5" text-anchor="middle" font-weight="normal" font-style="normal" fill="#222">0</text>
<text x="439.3" y="438.1" font-size="7.5" text-anchor="middle" font-weight="normal" font-style="normal" fill="#222">1</text>
<text x="439.3" y="454.5" font-size="7.5" text-anchor="middle" font-weight="normal" font-style="normal" fill="#222">24</text>
<line x1="459.3" y1="441.4" x2="459.3" y2="444.6" stroke="#111" stroke-width="1" stroke-linecap="butt"/>
<text x="459.3" y="427.3" font-size="7.5" text-anchor="middle" font-weight="normal" font-style="normal" fill="#222">0</text>
<text x="459.3" y="438.1" font-size="7.5" text-anchor="middle" font-weight="normal" font-style="normal" fill="#222">1</text>
<text x="459.3" y="454.5" font-size="7.5" text-anchor="middle" font-weight="normal" font-style="normal" fill="#222">28</text>
<line x1="479.3" y1="441.4" x2="479.3" y2="444.6" stroke="#111" stroke-width="1" stroke-linecap="butt"/>
<text x="479.3" y="427.3" font-size="7.5" text-anchor="middle" font-weight="normal" font-style="normal" fill="#222">0</text>
<text x="479.3" y="438.1" font-size="7.5" text-anchor="middle" font-weight="normal" font-style="normal" fill="#222">1</text>
<text x="479.3" y="454.5" font-size="7.5" text-anchor="middle" font-weight="normal" font-style="normal" fill="#222">32</text>
<line x1="499.3" y1="441.4" x2="499.3" y2="444.6" stroke="#111" stroke-width="1" stroke-linecap="butt"/>
<text x="499.3" y="427.3" font-size="7.5" text-anchor="middle" font-weight="normal" font-style="normal" fill="#222">0</text>
<text x="499.3" y="438.1" font-size="7.5" text-anchor="middle" font-weight="normal" font-style="normal" fill="#222">1</text>
<text x="499.3" y="454.5" font-size="7.5" text-anchor="middle" font-weight="normal" font-style="normal" fill="#222">36</text>
<text x="388.7" y="467.3" font-size="8.2" text-anchor="start" font-weight="normal" font-style="normal" fill="#222" textLength="36.8" lengthAdjust="spacingAndGlyphs" style="stroke-width:0.35px">Time (Months)</text>
<rect x="0.5" y="0.5" width="519" height="475" fill="none" stroke="#5c5c5c" stroke-width="1"/>
</svg>
</body></html>
